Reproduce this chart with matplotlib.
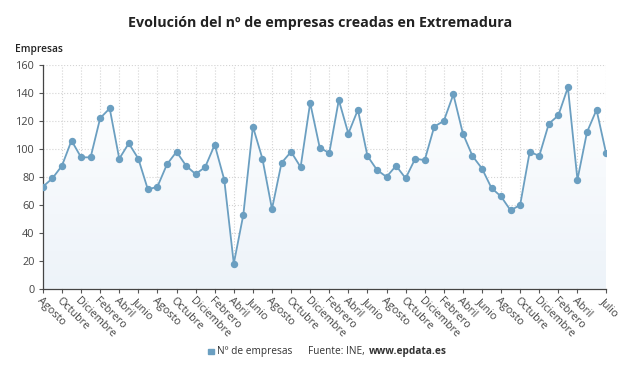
import matplotlib.pyplot as plt
import numpy as np
from matplotlib.patches import Rectangle
from matplotlib.colors import LinearSegmentedColormap

plt.rcParams['font.family'] = ['Open Sans', 'DejaVu Sans']

# monthly values, Agosto (year 1) .. Julio (year 6)
valores = [73, 79, 88, 106, 94, 94, 122, 129, 93, 104, 93, 71,
           73, 89, 98, 88, 82, 87, 103, 78, 18, 53, 116, 93,
           57, 90, 98, 87, 133, 101, 97, 135, 111, 128, 95, 85,
           80, 88, 79, 93, 92, 116, 120, 139, 111, 95, 86, 72,
           66, 56, 60, 98, 95, 118, 124, 144, 78, 112, 128, 97]
meses = ['Agosto', 'Octubre', 'Diciembre', 'Febrero', 'Abril', 'Junio']
etiquetas = meses * 4 + ['Agosto', 'Octubre', 'Diciembre', 'Febrero', 'Abril', 'Julio']
yticks = [0, 20, 40, 60, 80, 100, 120, 140, 160]

color = '#6b9fc1'
x = np.arange(len(valores))
tick_pos = list(range(0, 58, 2)) + [59]

fig = plt.figure(figsize=(6.4, 3.76), dpi=100)
ax = fig.add_axes([0.067, 0.232, 0.88, 0.595])

# gradient fill under the line
fill = ax.fill_between(x, valores, 0, color='none')
grad = np.linspace(0, 1, 256).reshape(-1, 1)
cmap = LinearSegmentedColormap.from_list('g', ['#ffffff', '#edf3f9'])
im = ax.imshow(grad, extent=[0, 59, 0, 160], aspect='auto', origin='upper',
               cmap=cmap, zorder=1)
im.set_clip_path(fill.get_paths()[0], transform=ax.transData)

ax.plot(x, valores, color=color, lw=1.3, marker='o', ms=4.3, zorder=3)

ax.set_xlim(0, 59)
ax.set_ylim(0, 160)
ax.set_yticks(yticks)
ax.set_xticks(tick_pos)
ax.set_xticklabels(etiquetas, rotation=-45, ha='left', va='top',
                   rotation_mode='anchor', fontsize=7.8, color='#444444')
ax.tick_params(axis='y', labelsize=7.8, labelcolor='#444444', length=3,
               color='#555555', pad=3)
ax.tick_params(axis='x', length=3, color='#555555', pad=2)
ax.grid(True, color='#d4d4d4', ls=':', lw=0.8, zorder=0)
for s in ['top', 'right']:
    ax.spines[s].set_visible(False)
for s in ['left', 'bottom']:
    ax.spines[s].set_color('#444444')
    ax.spines[s].set_linewidth(0.9)
ax.set_axisbelow(True)

fig.text(0.5, 0.94, 'Evolución del nº de empresas creadas en Extremadura',
         ha='center', va='center', fontsize=10.3, fontweight='bold', color='#222222')
fig.text(0.023, 0.868, 'Empresas', ha='left', va='center', fontsize=7.3,
         fontweight='semibold', color='#222222')

# legend / source line
fig.patches.append(Rectangle((0.325, 0.058), 0.009, 0.015, color=color,
                             transform=fig.transFigure, figure=fig))
fig.text(0.339, 0.064, 'Nº de empresas', ha='left', va='center', fontsize=7.3,
         color='#333333')
t1 = fig.text(0.482, 0.064, 'Fuente: INE,', ha='left', va='center', fontsize=7.3,
              color='#333333')
fig.canvas.draw()
bb = t1.get_window_extent().transformed(fig.transFigure.inverted())
fig.text(bb.x1 + 0.006, 0.064, 'www.epdata.es', ha='left', va='center', fontsize=7.3,
         fontweight='bold', color='#333333')

fig.savefig('out.png', dpi=100)
